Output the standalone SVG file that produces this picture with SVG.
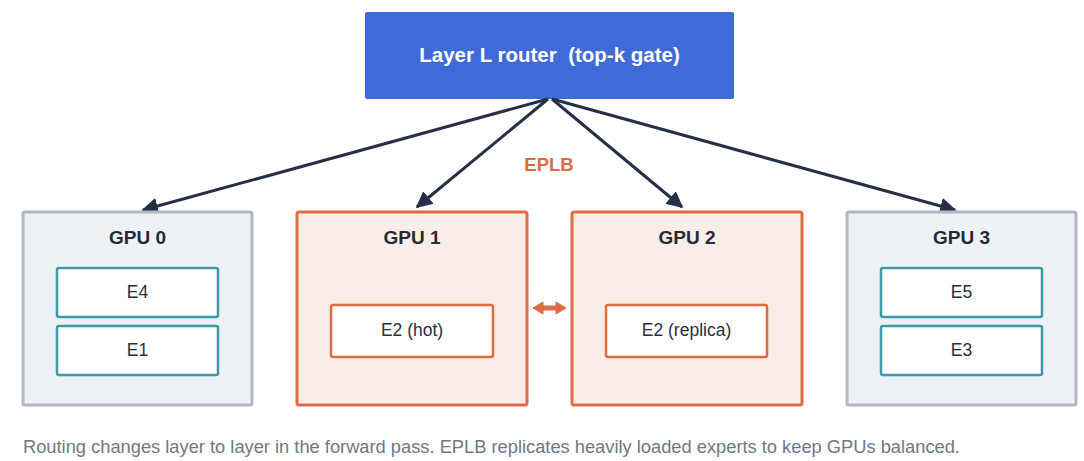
<svg xmlns="http://www.w3.org/2000/svg" width="1084" height="461" viewBox="0 0 1084 461">
<defs>
<style>
.t{font-family:"Liberation Sans",Arial,sans-serif}
.gpu-g{fill:#eef2f7;stroke:#b1b8c3;stroke-width:3}
.gpu-o{fill:#f9ede7;stroke:#df6b45;stroke-width:3}
.ex-t{fill:#fff;stroke:#3e9aa6;stroke-width:2.5}
.ex-o{fill:#fff;stroke:#df6b45;stroke-width:2.5}
.h{font-size:19px;font-weight:bold;fill:#252b36;text-anchor:middle}
.e{font-size:17.5px;fill:#2a303a;text-anchor:middle}
.c{stroke:#253047;stroke-width:3;fill:none}
</style>
<marker id="ah" viewBox="0 0 10 10" refX="9" refY="5" markerWidth="5.5" markerHeight="5.5" orient="auto" markerUnits="strokeWidth">
<path d="M0,0 L10,5 L0,10 z" fill="#253047"/>
</marker>
</defs>
<rect width="1084" height="461" fill="#fff"/>
<g id="router">
<rect x="365" y="12" width="369" height="87" rx="2" fill="#3f6bd9"/>
<text class="t" x="549.5" y="62" font-size="20.5" font-weight="bold" fill="#fff" text-anchor="middle" xml:space="preserve">Layer L router  (top-k gate)</text>
</g>
<g id="connectors">
<line class="c" x1="548" y1="99" x2="143" y2="210" marker-end="url(#ah)"/>
<line class="c" x1="548" y1="99" x2="417" y2="207" marker-end="url(#ah)"/>
<line class="c" x1="552" y1="99" x2="682" y2="207" marker-end="url(#ah)"/>
<line class="c" x1="552" y1="99" x2="955" y2="210" marker-end="url(#ah)"/>
<path d="M533,308 L543,302 L543,306 L556,306 L556,302 L566,308 L556,314 L556,310 L543,310 L543,314 Z" fill="#df6b45" stroke="#df6b45" stroke-width="1" stroke-linejoin="round"/>
<text class="t" x="549" y="171" font-size="18.5" font-weight="bold" fill="#df6b45" text-anchor="middle">EPLB</text>
</g>
<g id="gpu0">
<rect class="gpu-g" x="23" y="212" width="229" height="193" rx="2"/>
<text class="t h" x="137.5" y="244">GPU 0</text>
<g id="e4"><rect class="ex-t" x="57" y="268" width="161" height="49" rx="2"/><text class="t e" x="137.5" y="298">E4</text></g>
<g id="e1"><rect class="ex-t" x="57" y="326" width="161" height="49" rx="2"/><text class="t e" x="137.5" y="356">E1</text></g>
</g>
<g id="gpu1">
<rect class="gpu-o" x="297" y="212" width="230" height="193" rx="2"/>
<text class="t h" x="412" y="244">GPU 1</text>
<g id="e2hot"><rect class="ex-o" x="331" y="305" width="162" height="52" rx="2"/><text class="t e" x="412" y="336">E2 (hot)</text></g>
</g>
<g id="gpu2">
<rect class="gpu-o" x="572" y="212" width="230" height="193" rx="2"/>
<text class="t h" x="687" y="244">GPU 2</text>
<g id="e2rep"><rect class="ex-o" x="606" y="305" width="161" height="52" rx="2"/><text class="t e" x="686.5" y="336">E2 (replica)</text></g>
</g>
<g id="gpu3">
<rect class="gpu-g" x="847" y="212" width="229" height="193" rx="2"/>
<text class="t h" x="961.5" y="244">GPU 3</text>
<g id="e5"><rect class="ex-t" x="881" y="268" width="161" height="49" rx="2"/><text class="t e" x="961.5" y="298">E5</text></g>
<g id="e3"><rect class="ex-t" x="881" y="326" width="161" height="49" rx="2"/><text class="t e" x="961.5" y="356">E3</text></g>
</g>
<text class="t" x="23" y="453" font-size="18.3" fill="#717884">Routing changes layer to layer in the forward pass. EPLB replicates heavily loaded experts to keep GPUs balanced.</text>
</svg>
